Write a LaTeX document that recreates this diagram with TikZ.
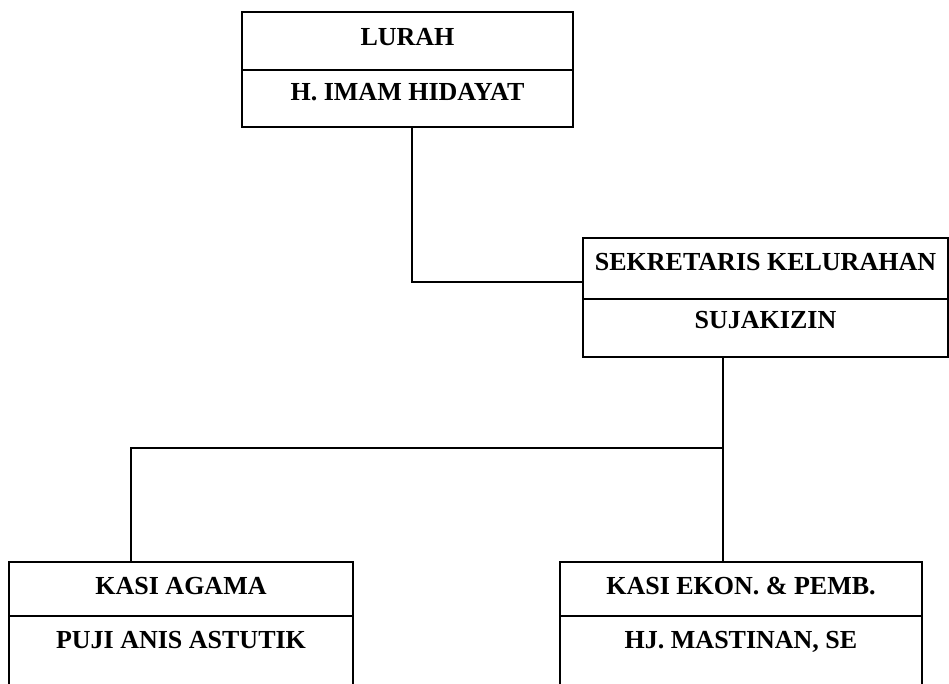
\documentclass[tikz,border=0pt]{standalone}
\usepackage{fontspec}
\setmainfont{Liberation Serif}
\usetikzlibrary{calc, positioning}

\begin{document}
\begin{tikzpicture}[x=1pt, y=-1pt, line width=1.8pt,
  every node/.style={font=\fontsize{26}{30}\selectfont\bfseries},
  jabatan/.style={draw, outer sep=0pt, inner sep=0pt, text height=17pt, text depth=8pt},
  nama/.style={draw, outer sep=0pt, inner sep=0pt, text height=17pt, text depth=13pt}]
  \clip (0,0) rectangle (949,683);

  % Lurah
  \node[jabatan, minimum width=331pt, minimum height=58pt] (lurah) at (407.5,41) {LURAH};
  \node[nama, minimum width=331pt, minimum height=57pt, below=0pt of lurah] (lurahnm) {H. IMAM HIDAYAT};

  % Sekretaris
  \node[jabatan, minimum width=365pt, minimum height=61pt, text depth=13pt] (sek) at (765.5,268.5) {SEKRETARIS KELURAHAN};
  \node[nama, minimum width=365pt, minimum height=58pt, text depth=16pt, below=0pt of sek] (seknm) {SUJAKIZIN};

  % Kasi
  \node[jabatan, minimum width=344pt, minimum height=54pt, text depth=6pt] (agama) at (181,589) {KASI AGAMA};
  \node[nama, minimum width=344pt, minimum height=84pt, text depth=36pt, below=0pt of agama] (agamanm) {PUJI ANIS ASTUTIK};
  \node[jabatan, minimum width=362pt, minimum height=54pt, text depth=6pt] (ekon) at (741,589) {KASI EKON. \& PEMB.};
  \node[nama, minimum width=362pt, minimum height=84pt, text depth=36pt, below=0pt of ekon] (ekonnm) {HJ. MASTINAN, SE};

  % Garis
  \coordinate (bus) at (723,448);
  \coordinate (busL) at (131,448);
  \draw ($(lurahnm.south)+(4.5,0)$) |- ($(sek.west)+(0,13.5)$);
  \draw (seknm.south -| bus) -- (ekon.north -| bus);
  \draw (bus) -| (agama.north -| busL);
\end{tikzpicture}
\end{document}
